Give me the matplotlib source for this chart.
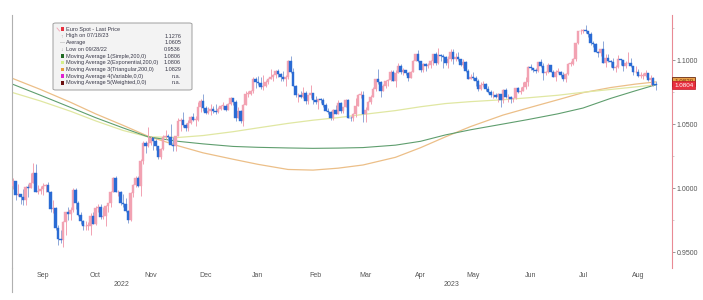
import matplotlib
matplotlib.use("Agg")
import matplotlib.pyplot as plt
from matplotlib.patches import FancyBboxPatch, Rectangle
from matplotlib.lines import Line2D
import numpy as np
import pandas as pd

# EUR/USD daily candles, business days 31 Aug 2022 .. 25 Aug 2023
dates = pd.bdate_range("2022-08-31", "2023-08-25")
first_open = 1.0015

closes = [
    1.0055,
    # Sep 22
    0.9945, 0.9955, 0.9930, 0.9905, 1.0010, 1.0000, 1.0040, 1.0120, 0.9970, 0.9980, 0.9995,
    1.0015, 1.0025, 0.9970, 0.9835, 0.9840, 0.9690, 0.9605, 0.9590, 0.9735, 0.9815, 0.9800,
    # Oct 22
    0.9825, 0.9985, 0.9885, 0.9790, 0.9740, 0.9700, 0.9705, 0.9705, 0.9780, 0.9720, 0.9840,
    0.9855, 0.9775, 0.9780, 0.9860, 0.9880, 0.9965, 1.0080, 0.9965, 0.9965, 0.9880,
    # Nov 22
    0.9875, 0.9820, 0.9750, 0.9960, 1.0020, 1.0075, 1.0015, 1.0210, 1.0355, 1.0325, 1.0350,
    1.0390, 1.0365, 1.0325, 1.0245, 1.0305, 1.0395, 1.0410, 1.0400, 1.0340, 1.0330, 1.0405,
    # Dec 22
    1.0525, 1.0535, 1.0490, 1.0470, 1.0505, 1.0555, 1.0535, 1.0535, 1.0630, 1.0680, 1.0625,
    1.0585, 1.0605, 1.0620, 1.0605, 1.0595, 1.0615, 1.0640, 1.0640, 1.0610, 1.0660, 1.0705,
    # Jan 23
    1.0670, 1.0550, 1.0605, 1.0520, 1.0645, 1.0735, 1.0735, 1.0760, 1.0850, 1.0830, 1.0820,
    1.0790, 1.0795, 1.0830, 1.0855, 1.0870, 1.0885, 1.0915, 1.0890, 1.0870, 1.0850, 1.0865,
    # Feb 23
    1.0990, 1.0910, 1.0795, 1.0725, 1.0725, 1.0715, 1.0740, 1.0680, 1.0725, 1.0740,
    1.0690, 1.0675, 1.0695, 1.0685, 1.0650, 1.0605, 1.0595, 1.0545, 1.0610, 1.0575,
    # Mar 23
    1.0665, 1.0600, 1.0635, 1.0685, 1.0550, 1.0545, 1.0580, 1.0640, 1.0730, 1.0730, 1.0580, 1.0610,
    1.0670, 1.0715, 1.0770, 1.0850, 1.0830, 1.0760, 1.0800, 1.0840, 1.0845, 1.0905, 1.0840,
    # Apr 23
    1.0900, 1.0955, 1.0905, 1.0920, 1.0900, 1.0860, 1.0910, 1.0990, 1.1045, 1.0990,
    1.0925, 1.0970, 1.0955, 1.0965, 1.0990, 1.1050, 1.0975, 1.1040, 1.1030, 1.1020,
    # May 23
    1.0975, 1.1005, 1.1065, 1.1010, 1.1020, 1.1005, 1.0960, 1.0985, 1.0915, 1.0850, 1.0870, 1.0860,
    1.0840, 1.0770, 1.0805, 1.0810, 1.0770, 1.0750, 1.0725, 1.0725, 1.0710, 1.0735, 1.0690,
    # Jun 23
    1.0765, 1.0710, 1.0715, 1.0695, 1.0700, 1.0780, 1.0750, 1.0755, 1.0790, 1.0830, 1.0945,
    1.0940, 1.0920, 1.0915, 1.0985, 1.0955, 1.0895, 1.0905, 1.0960, 1.0910, 1.0865, 1.0910,
    # Jul 23
    1.0910, 1.0880, 1.0855, 1.0890, 1.0970, 1.0970, 1.1010, 1.1130, 1.1225, 1.1230, 1.1235,
    1.1225, 1.1200, 1.1130, 1.1125, 1.1065, 1.1055, 1.1085, 1.0975, 1.1015, 1.0995,
    # Aug 23
    1.0985, 1.0935, 1.0945, 1.1005, 1.1000, 1.0955, 1.0975, 1.0980, 1.0950, 1.0905,
    1.0905, 1.0875, 1.0875, 1.0875, 1.0895, 1.0845, 1.0860, 1.0805, 1.0804,
]

highs = [
    1.0080,
    1.0055, 1.0033, 0.9955, 0.9990, 1.0015, 1.0030, 1.0115, 1.0198, 1.0185, 1.0020, 1.0018,
    1.0037, 1.0030, 1.0050, 0.9975, 0.9905, 0.9850, 0.9710, 0.9670, 0.9740, 0.9815, 0.9855,
    0.9850, 0.9999, 0.9999, 0.9900, 0.9815, 0.9750, 0.9740, 0.9735, 0.9805, 0.9810, 0.9860,
    0.9875, 0.9875, 0.9850, 0.9870, 0.9875, 0.9975, 1.0090, 1.0095, 0.9985, 0.9975,
    0.9955, 0.9925, 0.9825, 0.9965, 1.0035, 1.0095, 1.0095, 1.0225, 1.0365, 1.0365, 1.0480,
    1.0405, 1.0395, 1.0385, 1.0330, 1.0310, 1.0415, 1.0450, 1.0420, 1.0500, 1.0400, 1.0410,
    1.0545, 1.0545, 1.0595, 1.0505, 1.0530, 1.0565, 1.0590, 1.0565, 1.0675, 1.0695, 1.0735,
    1.0640, 1.0635, 1.0660, 1.0640, 1.0655, 1.0630, 1.0645, 1.0670, 1.0660, 1.0665, 1.0715,
    1.0700, 1.0685, 1.0630, 1.0610, 1.0655, 1.0760, 1.0760, 1.0765, 1.0865, 1.0870, 1.0875,
    1.0865, 1.0885, 1.0845, 1.0860, 1.0930, 1.0890, 1.0925, 1.0930, 1.0900, 1.0915, 1.0880,
    1.1000, 1.1033, 1.0935, 1.0805, 1.0745, 1.0755, 1.0790, 1.0755, 1.0730, 1.0805,
    1.0745, 1.0720, 1.0695, 1.0705, 1.0700, 1.0665, 1.0625, 1.0600, 1.0615, 1.0645,
    1.0690, 1.0670, 1.0635, 1.0695, 1.0695, 1.0565, 1.0585, 1.0705, 1.0735, 1.0760, 1.0760, 1.0635,
    1.0680, 1.0725, 1.0790, 1.0855, 1.0930, 1.0835, 1.0810, 1.0845, 1.0850, 1.0925, 1.0925,
    1.0920, 1.0975, 1.0970, 1.0935, 1.0925, 1.0910, 1.0915, 1.1000, 1.1050, 1.1075,
    1.0995, 1.0980, 1.0980, 1.0975, 1.1000, 1.1050, 1.1065, 1.1095, 1.1050, 1.1045,
    1.1030, 1.1030, 1.1090, 1.1090, 1.1055, 1.1060, 1.1010, 1.1005, 1.0990, 1.0930, 1.0890, 1.0905,
    1.0875, 1.0850, 1.0830, 1.0835, 1.0820, 1.0800, 1.0765, 1.0755, 1.0745, 1.0745, 1.0735,
    1.0770, 1.0780, 1.0735, 1.0720, 1.0705, 1.0785, 1.0790, 1.0790, 1.0825, 1.0865, 1.0955,
    1.0970, 1.0940, 1.0935, 1.0985, 1.1010, 1.0975, 1.0915, 1.0975, 1.0965, 1.0925, 1.0925,
    1.0935, 1.0915, 1.0905, 1.0895, 1.0975, 1.0995, 1.1015, 1.1130, 1.1230, 1.1245, 1.1245,
    1.1276, 1.1230, 1.1220, 1.1145, 1.1130, 1.1070, 1.1085, 1.1150, 1.1045, 1.1045,
    1.1000, 1.1015, 1.0965, 1.1040, 1.1010, 1.0995, 1.0990, 1.1065, 1.1015, 1.0955,
    1.0950, 1.0930, 1.0905, 1.0895, 1.0925, 1.0900, 1.0880, 1.0870, 1.0840,
]

lows = [
    0.9990,
    0.9910, 0.9940, 0.9877, 0.9865, 0.9865, 0.9930, 1.0000, 1.0040, 0.9966, 0.9955, 0.9955,
    0.9945, 0.9965, 0.9965, 0.9810, 0.9808, 0.9670, 0.9555, 0.9570, 0.9536, 0.9635, 0.9750,
    0.9750, 0.9810, 0.9835, 0.9780, 0.9720, 0.9670, 0.9670, 0.9670, 0.9635, 0.9715, 0.9710,
    0.9810, 0.9760, 0.9760, 0.9705, 0.9810, 0.9850, 0.9965, 0.9965, 0.9940, 0.9870,
    0.9850, 0.9810, 0.9730, 0.9745, 0.9930, 1.0005, 1.0005, 0.9935, 1.0185, 1.0270, 1.0320,
    1.0335, 1.0300, 1.0300, 1.0225, 1.0225, 1.0295, 1.0385, 1.0370, 1.0335, 1.0290, 1.0290,
    1.0405, 1.0445, 1.0480, 1.0445, 1.0445, 1.0500, 1.0525, 1.0485, 1.0525, 1.0595, 1.0600,
    1.0575, 1.0580, 1.0570, 1.0585, 1.0575, 1.0590, 1.0610, 1.0615, 1.0605, 1.0610, 1.0645,
    1.0650, 1.0520, 1.0545, 1.0510, 1.0485, 1.0645, 1.0710, 1.0725, 1.0740, 1.0780, 1.0805,
    1.0770, 1.0765, 1.0790, 1.0815, 1.0850, 1.0835, 1.0860, 1.0865, 1.0835, 1.0835, 1.0800,
    1.0855, 1.0900, 1.0795, 1.0710, 1.0670, 1.0705, 1.0705, 1.0660, 1.0660, 1.0700,
    1.0660, 1.0660, 1.0615, 1.0665, 1.0630, 1.0600, 1.0575, 1.0535, 1.0535, 1.0575,
    1.0575, 1.0590, 1.0585, 1.0630, 1.0545, 1.0525, 1.0525, 1.0555, 1.0655, 1.0705, 1.0515, 1.0515,
    1.0610, 1.0660, 1.0710, 1.0760, 1.0815, 1.0715, 1.0760, 1.0780, 1.0800, 1.0840, 1.0835,
    1.0790, 1.0895, 1.0890, 1.0880, 1.0880, 1.0835, 1.0860, 1.0910, 1.0990, 1.0985,
    1.0910, 1.0910, 1.0915, 1.0940, 1.0935, 1.0965, 1.0965, 1.0970, 1.0995, 1.0940,
    1.0965, 1.0940, 1.0990, 1.0970, 1.0990, 1.0990, 1.0950, 1.0940, 1.0905, 1.0850, 1.0850, 1.0845,
    1.0800, 1.0760, 1.0765, 1.0790, 1.0760, 1.0745, 1.0715, 1.0705, 1.0700, 1.0675, 1.0635,
    1.0665, 1.0705, 1.0675, 1.0665, 1.0675, 1.0695, 1.0745, 1.0735, 1.0755, 1.0775, 1.0800,
    1.0925, 1.0905, 1.0895, 1.0905, 1.0945, 1.0845, 1.0880, 1.0895, 1.0905, 1.0865, 1.0835,
    1.0895, 1.0870, 1.0835, 1.0830, 1.0880, 1.0950, 1.0965, 1.0995, 1.1125, 1.1205, 1.1210,
    1.1210, 1.1180, 1.1115, 1.1105, 1.1060, 1.1020, 1.1035, 1.0975, 1.0945, 1.0985,
    1.0945, 1.0925, 1.0910, 1.0935, 1.0960, 1.0915, 1.0940, 1.0975, 1.0945, 1.0880,
    1.0895, 1.0865, 1.0860, 1.0855, 1.0870, 1.0840, 1.0800, 1.0800, 1.0765,
]

# 200-day moving averages at a few dates
ma_dates = ["2022-08-31", "2022-09-15", "2022-10-03", "2022-10-17", "2022-11-01",
            "2022-11-15", "2022-12-01", "2022-12-15", "2023-01-02", "2023-01-16",
            "2023-02-01", "2023-02-15", "2023-03-01", "2023-03-15", "2023-04-03",
            "2023-04-17", "2023-05-01", "2023-05-15", "2023-06-01", "2023-06-15",
            "2023-07-03", "2023-07-17", "2023-08-01", "2023-08-15", "2023-08-25"]
ma_simple = [1.0810, 1.0725, 1.0630, 1.0550, 1.0470, 1.0400, 1.0365, 1.0345, 1.0325, 1.0318,
             1.0313, 1.0310, 1.0312, 1.0316, 1.0335, 1.0365, 1.0415, 1.0455, 1.0500, 1.0535,
             1.0580, 1.0625, 1.0700, 1.0760, 1.0806]
ma_expo = [1.0745, 1.0680, 1.0600, 1.0525, 1.0450, 1.0400, 1.0395, 1.0410, 1.0440, 1.0470,
           1.0505, 1.0530, 1.0550, 1.0575, 1.0605, 1.0635, 1.0660, 1.0675, 1.0690, 1.0705,
           1.0725, 1.0748, 1.0770, 1.0790, 1.0806]
ma_tri = [1.0855, 1.0770, 1.0670, 1.0580, 1.0490, 1.0405, 1.0330, 1.0275, 1.0225, 1.0185,
          1.0145, 1.0140, 1.0155, 1.0180, 1.0240, 1.0315, 1.0400, 1.0480, 1.0570, 1.0625,
          1.0690, 1.0745, 1.0785, 1.0812, 1.0829]

month_names = ["Sep", "Oct", "Nov", "Dec", "Jan", "Feb", "Mar", "Apr", "May", "Jun", "Jul", "Aug"]
month_mids = ["2022-09-16", "2022-10-17", "2022-11-16", "2022-12-16", "2023-01-16", "2023-02-16",
              "2023-03-16", "2023-04-17", "2023-05-16", "2023-06-16", "2023-07-17", "2023-08-16"]

legend_rows = [
    ("Euro Spot - Last Price", ""),
    ("High on 07/18/23", "1.1276"),
    ("Average", "1.0605"),
    ("Low on 09/28/22", "0.9536"),
    ("Moving Average 1(Simple,200,0)", "1.0806"),
    ("Moving Average 2(Exponential,200,0)", "1.0806"),
    ("Moving Average 3(Triangular,200,0)", "1.0829"),
    ("Moving Average 4(Variable,0,0)", "n.a."),
    ("Moving Average 5(Weighted,0,0)", "n.a."),
]

closes = np.array(closes)
opens = np.concatenate([[first_open], closes[:-1]])
highs = np.maximum(np.array(highs), np.maximum(opens, closes))
lows = np.minimum(np.array(lows), np.minimum(opens, closes))
x = np.arange(len(dates))

UP = "#f2a2b2"
DOWN = "#2a6bd4"
C_SMA = "#5f9e6e"
C_EMA = "#e0e7a2"
C_TMA = "#ecbf88"

plt.rcParams['font.family'] = ['Liberation Sans', 'DejaVu Sans']
fig = plt.figure(figsize=(7.03, 3.0), dpi=100)
ax = fig.add_axes([12 / 703, 1 - 268 / 300, 660 / 703, 253 / 300])

mx = dates.get_indexer(pd.to_datetime(ma_dates))
ax.plot(mx, ma_tri, color=C_TMA, lw=0.9, zorder=1)
ax.plot(mx, ma_expo, color=C_EMA, lw=0.9, zorder=1)
ax.plot(mx, ma_simple, color=C_SMA, lw=0.8, zorder=1)

up = closes >= opens
ax.vlines(x[up], lows[up], highs[up], color=UP, lw=0.7, zorder=2)
ax.vlines(x[~up], lows[~up], highs[~up], color="#8ea8d8", lw=0.7, zorder=2)
body_lo = np.minimum(opens, closes)
body_h = np.maximum(np.abs(closes - opens), 0.0005)
ax.bar(x[up], body_h[up], bottom=body_lo[up], width=0.85, color=UP, edgecolor=UP, lw=0.3, zorder=3)
ax.bar(x[~up], body_h[~up], bottom=body_lo[~up], width=0.85, color=DOWN, edgecolor=DOWN, lw=0.3, zorder=3)

ax.set_xlim(-0.4, 263.6)
ax.set_ylim(0.9375, 1.1352)

for s in ["top", "bottom"]:
    ax.spines[s].set_visible(False)
ax.spines["left"].set_color("#b0b0b0")
ax.spines["left"].set_linewidth(0.8)
ax.spines["right"].set_color("#e98a94")
ax.spines["right"].set_linewidth(0.8)

ax.yaxis.tick_right()
ax.set_yticks([0.95, 1.0, 1.05, 1.10])
ax.set_yticklabels(["0.9500", "1.0000", "1.0500", "1.1000"])
ax.set_yticks([0.975, 1.025, 1.075, 1.125], minor=True)
ax.tick_params(axis="y", which="major", length=2, width=0.6, color="#888888",
               labelsize=5, labelcolor="#555555", pad=1.5)
ax.tick_params(axis="y", which="minor", length=1.5, width=0.5, color="#bbbbbb")

mpos = dates.get_indexer(pd.to_datetime(month_mids))
ax.set_xticks(mpos)
ax.set_xticklabels(month_names)
ax.tick_params(axis="x", length=0, labelsize=5, labelcolor="#555555", pad=3)

n22 = int((dates.year == 2022).sum())
ax.text((-0.4 + n22 - 0.5) / 2, -0.052, "2022", transform=ax.get_xaxis_transform(),
        ha="center", va="top", fontsize=5, color="#555555")
ax.text((n22 - 0.5 + 263.6) / 2, -0.052, "2023", transform=ax.get_xaxis_transform(),
        ha="center", va="top", fontsize=5, color="#555555")

# left border runs down through the date axis
fig.add_artist(Line2D([12 / 703, 12 / 703], [1 - 292 / 300, 1 - 268 / 300],
                      color="#b0b0b0", lw=0.8))

# price tags on the right axis
yt = ax.get_yaxis_transform()
ax.text(1.003, ma_tri[-1] + 0.0003, "1.0829", transform=yt, ha="left", va="center",
        fontsize=4.5, color="#7a3a10", clip_on=False, zorder=5,
        bbox=dict(boxstyle="square,pad=0.25", fc="#e9a24a", ec="#6b2a10", lw=0.6))
ax.text(1.003, closes[-1], "1.0804", transform=yt, ha="left", va="center",
        fontsize=4.5, color="white", clip_on=False, zorder=6,
        bbox=dict(boxstyle="square,pad=0.25", fc="#e8303f", ec="#c01828", lw=0.5))

# legend box
lx0, lx1, ly0, ly1 = 53, 192, 23, 90
fig.add_artist(FancyBboxPatch((lx0 / 703, 1 - ly1 / 300), (lx1 - lx0) / 703, (ly1 - ly0) / 300,
                              boxstyle="round,pad=0,rounding_size=0.004",
                              fc="#f3f3f3", ec="#9a9a9a", lw=0.7, alpha=0.95, zorder=10))
row_y0, row_dy = 29.3, 6.7
swatches = ["#e8303f", None, None, None, "#1f6a22", "#d4ef8a", "#e79a3c", "#e020d0", "#6a1010"]
glyphs = [None, "\u2191", "\u2014", "\u2193", None, None, None, None, None]
for k, (label, val) in enumerate(legend_rows):
    yy = 1 - (row_y0 + k * row_dy) / 300
    if swatches[k]:
        fig.add_artist(Rectangle((60.5 / 703, yy - 1.6 / 300), 3.4 / 703, 3.4 / 300,
                                 fc=swatches[k], ec="none", zorder=11))
    if glyphs[k]:
        fig.text(62 / 703, yy, glyphs[k], fontsize=3.6, color="#9a9a9a", ha="center",
                 va="center", zorder=11)
    fig.text(65.5 / 703, yy, label, fontsize=3.95, color="#3a3a4a", ha="left", va="center", zorder=11)
    if val:
        fig.text(181 / 703, yy, val, fontsize=3.95, color="#3a3a4a", ha="right", va="center", zorder=11)
fig.add_artist(Line2D([57 / 703, 59.5 / 703], [1 - 28 / 300, 1 - 31 / 300], color=UP, lw=0.6, zorder=11))

fig.savefig("out.png", dpi=100, facecolor="white")
